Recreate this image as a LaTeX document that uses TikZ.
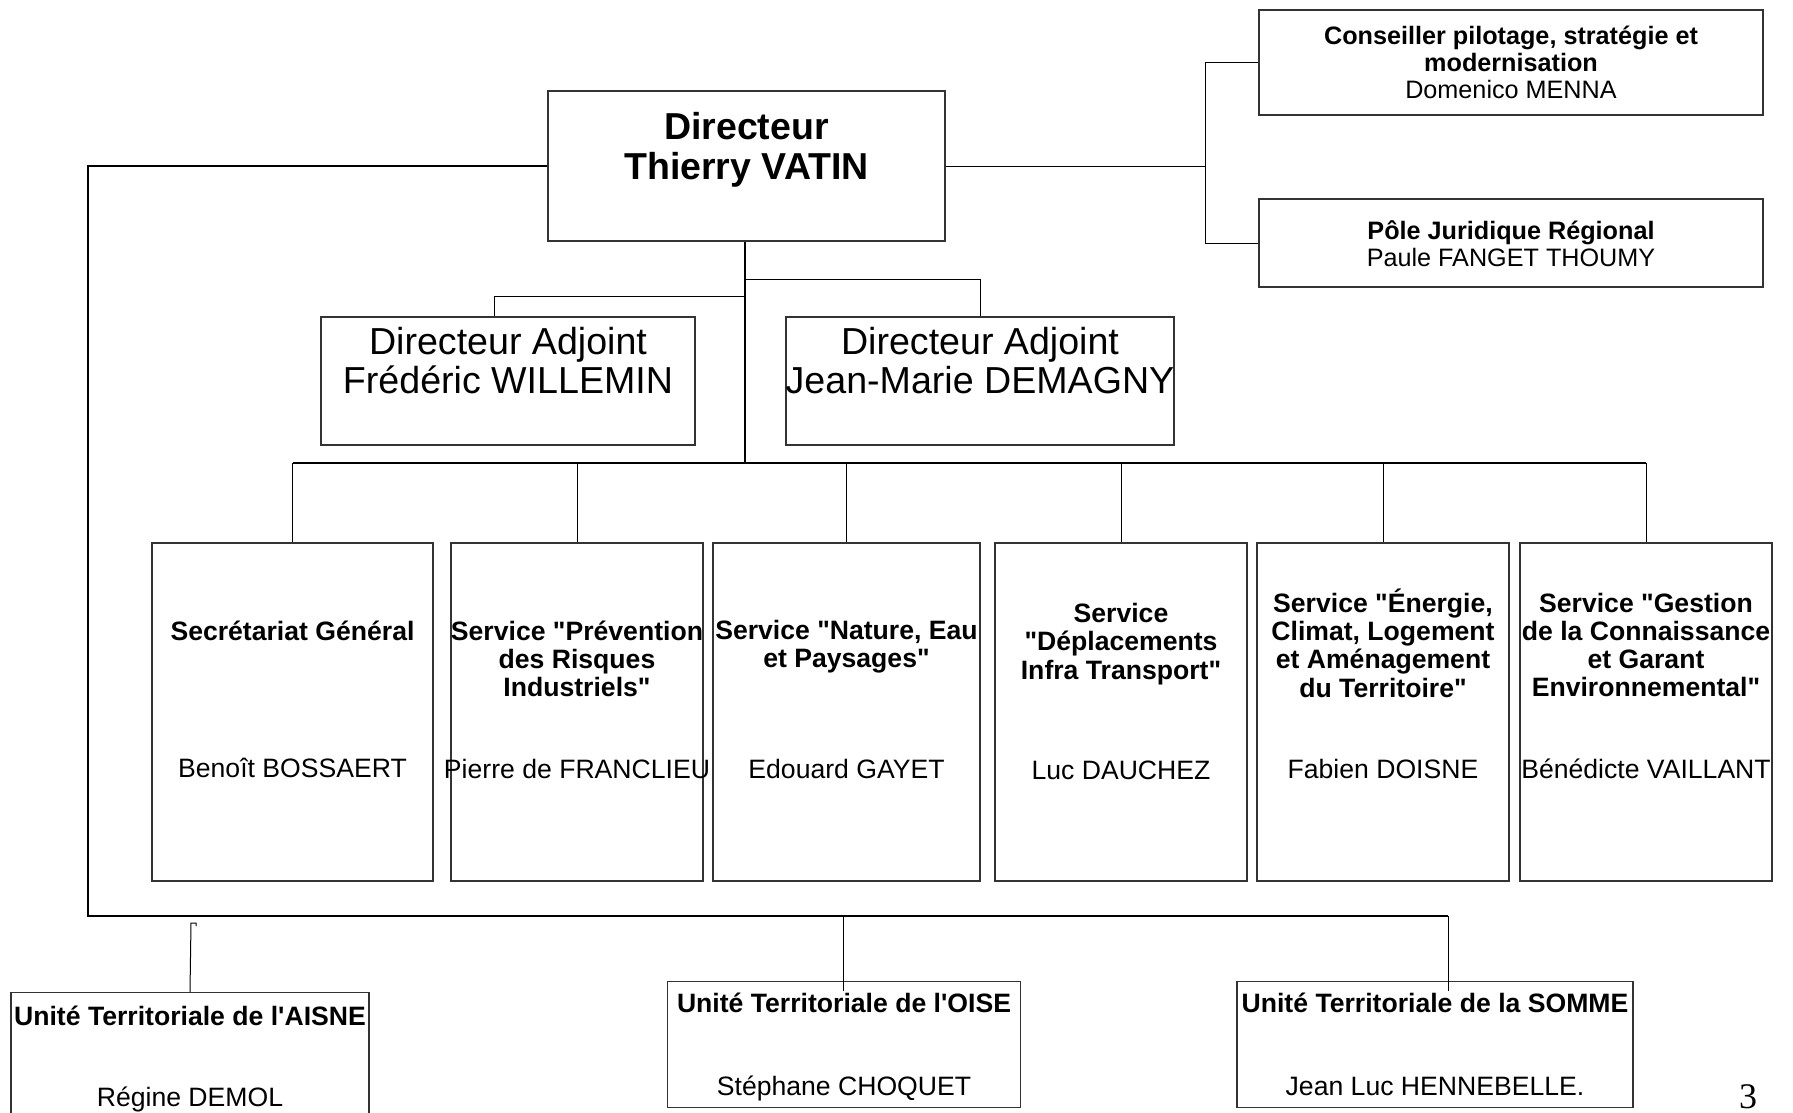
\documentclass[tikz,border=0pt]{standalone}
\usepackage{fontspec}
\setmainfont{Liberation Sans}[Ligatures=TeXOff]
\newfontfamily\pagenumfont{Liberation Serif}
\begin{document}
\begin{tikzpicture}[x=1pt,y=-1pt,
  box/.style={draw=black!80, line width=1.3pt, inner sep=0pt, rectangle},
  conn/.style={draw=black, line width=1pt},
  trunk/.style={draw=black, line width=1.4pt},
  ttl/.style={font=\bfseries\fontsize{26.6}{28.3}\selectfont, align=center, inner sep=0pt},
  nm/.style={font=\fontsize{26.6}{28.3}\selectfont, align=center, inner sep=0pt}]
\useasboundingbox (0,0) rectangle (1793,1113);
\clip (0,0) rectangle (1793,1113);

% ---- boxes
\node[box, minimum width=397pt, minimum height=150pt] (dir) at (746.5,166) {};
\node[box, minimum width=374pt, minimum height=128pt] (da1) at (508,381) {};
\node[box, minimum width=388pt, minimum height=128pt] (da2) at (980,381) {};
\node[box, minimum width=504pt, minimum height=105pt] (cons) at (1511,62.5) {};
\node[box, minimum width=504pt, minimum height=88pt] (pole) at (1511,243) {};
\node[box, minimum width=281pt, minimum height=338pt] (s1) at (292.5,712) {};
\node[box, minimum width=252pt, minimum height=338pt] (s2) at (577,712) {};
\node[box, minimum width=267pt, minimum height=338pt] (s3) at (846.5,712) {};
\node[box, minimum width=252pt, minimum height=338pt] (s4) at (1121,712) {};
\node[box, minimum width=252pt, minimum height=338pt] (s5) at (1383,712) {};
\node[box, minimum width=252pt, minimum height=338pt] (s6) at (1646,712) {};
\node[box, minimum width=358pt, minimum height=150pt] (ut1) at (190,1067.5) {};
\node[box, minimum width=353pt, minimum height=126pt] (ut2) at (844,1044.5) {};
\node[box, minimum width=396pt, minimum height=126pt] (ut3) at (1435,1044.5) {};

% ---- texts
\node[align=center, inner sep=0pt, font=\bfseries\fontsize{37.5}{40}\selectfont] (tdir) at (746.5,150) {Directeur\\Thierry VATIN};
\node[align=center, inner sep=0pt, font=\fontsize{37.6}{39}\selectfont] (tda1) at (508,361) {Directeur Adjoint\\Frédéric WILLEMIN};
\node[align=center, inner sep=0pt, font=\fontsize{37.6}{39}\selectfont] (tda2) at (980,361) {Directeur Adjoint\\Jean-Marie DEMAGNY};
\node[align=center, inner sep=0pt, font=\fontsize{25.2}{27}\selectfont] (tcons) at (1511,62.5) {\textbf{Conseiller pilotage, stratégie et}\\\textbf{modernisation}\\Domenico MENNA};
\node[align=center, inner sep=0pt, font=\fontsize{25.2}{27}\selectfont] (tpole) at (1511,243.5) {\textbf{Pôle Juridique Régional}\\Paule FANGET THOUMY};

\node[ttl] (t1) at (292.5,631) {Secrétariat Général};
\node[ttl] (t2) at (577,659) {Service "Prévention\\des Risques\\Industriels"};
\node[ttl] (t3) at (846.5,647) {Service "Nature, Eau\\et Paysages"};
\node[ttl] (t4) at (1121,644) {Service\\"Déplacements\\Infra Transport"};
\node[ttl] (t5) at (1383,643) {Service "Énergie,\\Climat, Logement\\et Aménagement\\du Territoire"};
\node[ttl] (t6) at (1646,645) {Service "Gestion\\de la Connaissance\\et Garant\\Environnemental"};

\node[nm] (n1) at (292.5,767.5) {Benoît BOSSAERT};
\node[nm] (n2) at (577,769) {Pierre de FRANCLIEU};
\node[nm] (n3) at (846.5,769) {Edouard GAYET};
\node[nm] (n4) at (1121,770.5) {Luc DAUCHEZ};
\node[nm] (n5) at (1383,769) {Fabien DOISNE};
\node[nm] (n6) at (1646,769) {Bénédicte VAILLANT};

\node[ttl, anchor=base] (u1) at (190,1025) {Unité Territoriale de l'AISNE};
\node[nm, anchor=base] (v1) at (190,1106) {Régine DEMOL};
\node[ttl, anchor=base] (u2) at (844,1012.5) {Unité Territoriale de l'OISE};
\node[nm, anchor=base] (v2) at (844,1095.5) {Stéphane CHOQUET};
\node[ttl, anchor=base] (u3) at (1435,1012.5) {Unité Territoriale de la SOMME};
\node[nm, anchor=base] (v3) at (1435,1095.5) {Jean Luc HENNEBELLE.};

\node[inner sep=0pt, anchor=base, font=\pagenumfont\fontsize{36}{40}\selectfont] (pg) at (1748,1108) {3};

% ---- connectors
\coordinate (da1t) at (745,296);
\coordinate (da2t) at (745,279);
\coordinate (bus) at (745,463);
\draw[trunk] (dir.south -| 745,0) -- (bus);
\draw[conn] (da1t) -| ([xshift=-14pt]da1.north);
\draw[conn] (da2t) -| (da2.north);
\draw[trunk] (s1.north |- bus) -- (s6.north |- bus);
\foreach \s in {s1,s2,s3,s4,s5,s6}{
  \draw[conn] (\s.north |- bus) -- (\s.north);
}
% right branch
\coordinate (rj) at (1205,166);
\draw[conn] (dir.east) -- (rj);
\draw[conn] (cons.west) -| (rj) |- (pole.west);
% left loop to territorial units
\coordinate (lb) at (88,916);
\coordinate (rb) at (1448,916);
\draw[trunk] (dir.west) -| (lb) -- (rb);
\draw[conn] ([xshift=-1pt]ut2.north |- lb) -- ([xshift=-1pt,yshift=-10pt]ut2.north);
\draw[conn] (rb) -- ([xshift=13pt,yshift=-10pt]ut3.north);
\coordinate (hk) at (196,926);
\draw[conn] (hk) -- (196,923) -- (191,923) -- (ut1.north);
\end{tikzpicture}
\end{document}
